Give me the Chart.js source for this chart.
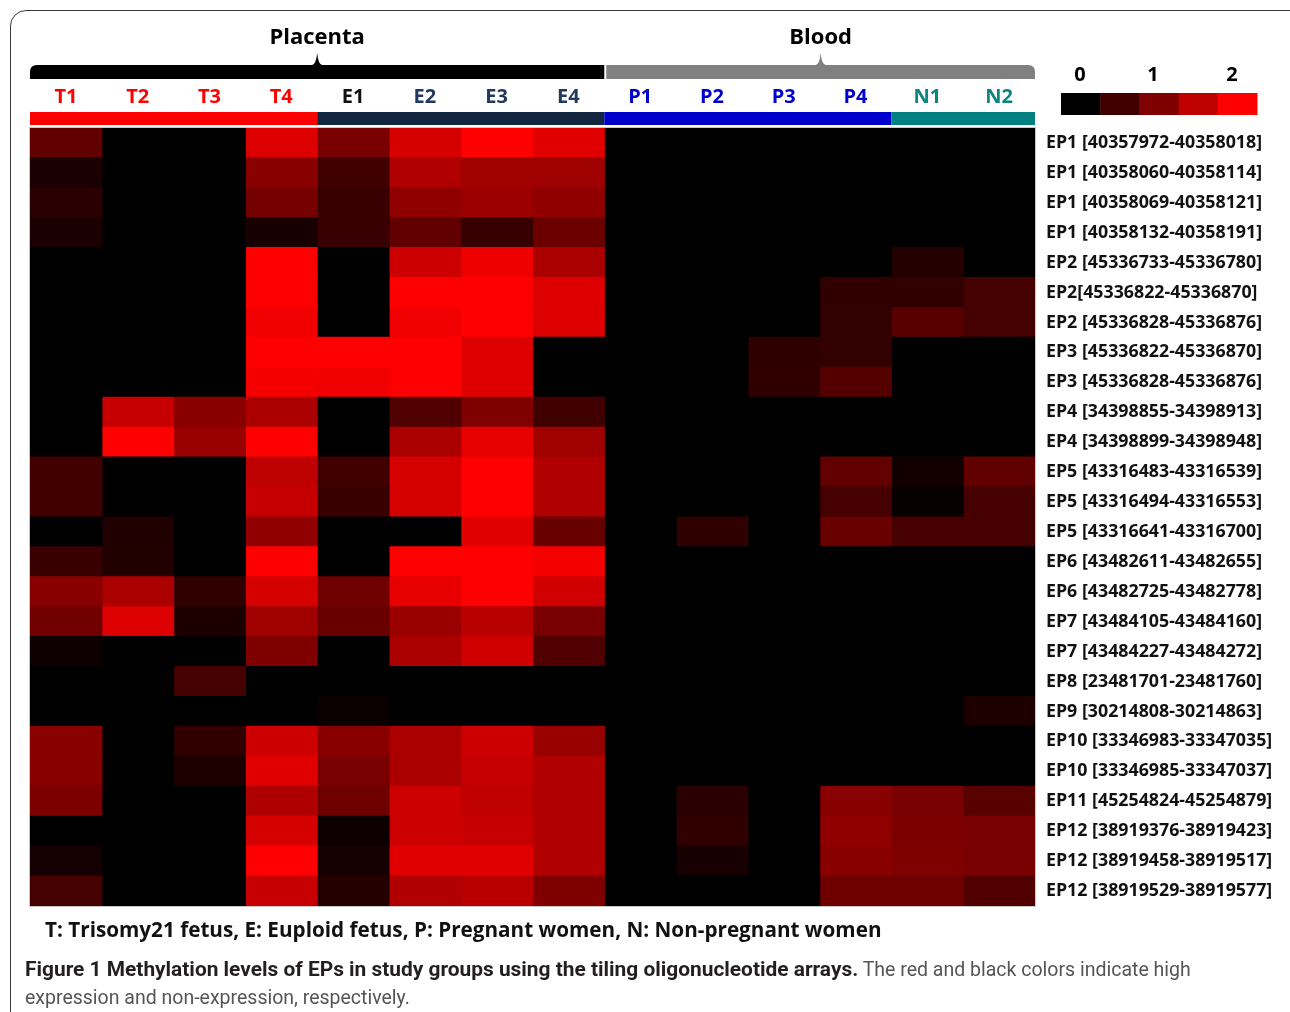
<!DOCTYPE html>
<html>
<head>
<meta charset="utf-8">
<script src="https://cdn.jsdelivr.net/npm/chart.js@4.4.1/dist/chart.umd.min.js"></script>
<style>
    body { margin: 0; background: #fff; width: 1290px; height: 1012px; overflow: hidden; position: relative; }
    .frame { position: absolute; left: 10px; top: 10px; width: 1300px; height: 1100px; border: 1.5px solid #3a3a3a; border-radius: 16px; }
    #chart { position: absolute; left: 0; top: 0; }
    .note { position: absolute; left: 45px; top: 915px; font: bold 20.7px "Open Sans", sans-serif; color: #111; }
    .caption { position: absolute; left: 25px; top: 955px; font: 19.5px "Roboto", sans-serif; line-height: 28px; color: #555; }
    .caption b { color: #231f20; font-size: 20.9px; }
</style>
</head>
<body>
<div class="frame"></div>
<canvas id="chart" width="1290" height="1012"></canvas>
<div class="note">T: Trisomy21 fetus, E: Euploid fetus, P: Pregnant women, N: Non-pregnant women</div>
<div class="caption"><b>Figure 1 Methylation levels of EPs in study groups using the tiling oligonucleotide arrays.</b> The red and black colors indicate high<br>expression and non-expression, respectively.</div>
<script>
const rows = [
    "EP1 [40357972-40358018]", "EP1 [40358060-40358114]", "EP1 [40358069-40358121]",
    "EP1 [40358132-40358191]", "EP2 [45336733-45336780]", "EP2[45336822-45336870]",
    "EP2 [45336828-45336876]", "EP3 [45336822-45336870]", "EP3 [45336828-45336876]",
    "EP4 [34398855-34398913]", "EP4 [34398899-34398948]", "EP5 [43316483-43316539]",
    "EP5 [43316494-43316553]", "EP5 [43316641-43316700]", "EP6 [43482611-43482655]",
    "EP6 [43482725-43482778]", "EP7 [43484105-43484160]", "EP7 [43484227-43484272]",
    "EP8 [23481701-23481760]", "EP9 [30214808-30214863]", "EP10 [33346983-33347035]",
    "EP10 [33346985-33347037]", "EP11 [45254824-45254879]", "EP12 [38919376-38919423]",
    "EP12 [38919458-38919517]", "EP12 [38919529-38919577]"
];

const cols = ["T1", "T2", "T3", "T4", "E1", "E2", "E3", "E4", "P1", "P2", "P3", "P4", "N1", "N2"];

// methylation level per column, one value per row (0 = black, 2 = red)
const T1 = [0.75, 0.2, 0.33, 0.2, 0, 0, 0, 0, 0, 0, 0, 0.5, 0.5, 0, 0.44, 1.07, 0.88, 0.1, 0, 0, 1.07, 1.07, 0.97, 0, 0.16, 0.54];
const T2 = [0, 0, 0, 0, 0, 0, 0, 0, 0, 1.55, 2, 0, 0, 0.25, 0.27, 1.33, 1.73, 0, 0, 0, 0, 0, 0, 0, 0, 0];
const T3 = [0, 0, 0, 0, 0, 0, 0, 0, 0, 1.08, 1.2, 0, 0, 0, 0, 0.38, 0.22, 0, 0.54, 0, 0.38, 0.22, 0, 0, 0, 0];
const T4 = [1.73, 1.07, 0.92, 0.19, 2, 2, 1.88, 2, 1.92, 1.33, 2, 1.5, 1.55, 1.13, 2, 1.67, 1.25, 1, 0, 0, 1.6, 1.76, 1.37, 1.67, 2, 1.55];
const E1 = [0.94, 0.5, 0.44, 0.44, 0, 0, 0, 2, 1.88, 0, 0, 0.5, 0.44, 0, 0, 0.88, 0.82, 0, 0, 0.08, 1.07, 0.94, 0.86, 0.1, 0.16, 0.29];
const E2 = [1.67, 1.38, 1.13, 0.75, 1.6, 2, 1.88, 2, 2, 0.63, 1.33, 1.67, 1.67, 0, 2, 1.82, 1.21, 1.33, 0, 0, 1.33, 1.33, 1.6, 1.6, 1.76, 1.38];
const E3 = [2, 1.25, 1.22, 0.42, 1.87, 2, 2, 1.73, 1.73, 1, 1.8, 2, 2, 1.76, 2, 2, 1.44, 1.63, 0, 0, 1.6, 1.55, 1.5, 1.55, 1.76, 1.44];
const E4 = [1.76, 1.25, 1.13, 0.83, 1.33, 1.73, 1.73, 0, 0, 0.5, 1.25, 1.38, 1.38, 0.82, 1.92, 1.63, 0.94, 0.63, 0, 0, 1.2, 1.38, 1.38, 1.38, 1.38, 1];
const P1 = [0, 0, 0, 0, 0, 0, 0, 0, 0, 0, 0, 0, 0, 0, 0, 0, 0, 0, 0, 0, 0, 0, 0, 0, 0, 0];
const P2 = [0, 0, 0, 0, 0, 0, 0, 0, 0, 0, 0, 0, 0, 0.36, 0, 0, 0, 0, 0, 0, 0, 0, 0.33, 0.38, 0.19, 0];
const P3 = [0, 0, 0, 0, 0, 0, 0, 0.36, 0.38, 0, 0, 0, 0, 0, 0, 0, 0, 0, 0, 0, 0, 0, 0, 0, 0, 0];
const P4 = [0, 0, 0, 0, 0, 0.38, 0.4, 0.4, 0.67, 0, 0, 0.77, 0.56, 0.82, 0, 0, 0, 0, 0, 0, 0, 0, 1.07, 1.13, 1.07, 0.88];
const N1 = [0, 0, 0, 0, 0.29, 0.38, 0.69, 0, 0, 0, 0, 0.14, 0.05, 0.56, 0, 0, 0, 0, 0, 0, 0, 0, 0.94, 0.97, 1, 0.88];
const N2 = [0, 0, 0, 0, 0, 0.54, 0.54, 0, 0, 0, 0, 0.75, 0.56, 0.56, 0, 0, 0, 0, 0, 0.22, 0, 0, 0.69, 0.94, 0.94, 0.63];

const columns = [T1, T2, T3, T4, E1, E2, E3, E4, P1, P2, P3, P4, N1, N2];

const legendSteps = [0, 0.5, 1, 1.5, 2];
const legendTicks = ["0", "1", "2"];

const colColors = ["#ff0000", "#ff0000", "#ff0000", "#ff0000", "#111111", "#22385c", "#22385c", "#22385c",
    "#0000cc", "#0000cc", "#0000cc", "#0000cc", "#0b8580", "#0b8580"];

const groups = [
    { from: 0, to: 4, color: "#ff0000" },
    { from: 4, to: 8, color: "#13263f" },
    { from: 8, to: 12, color: "#0000cc" },
    { from: 12, to: 14, color: "#008080" },
];

const tissues = [
    { text: "Placenta", from: 0, to: 8, color: "#000000", round: "left" },
    { text: "Blood", from: 8, to: 14, color: "#808080", round: "right" },
];

function heat(v) {
    return `rgb(${Math.round(v / 2 * 255)},0,0)`;
}

const header = {
    id: "header",
    afterDraw(chart) {
        const { ctx, chartArea, scales } = chart;
        const x = scales.x;
        ctx.save();

        // coloured group strip
        groups.forEach(g => {
            ctx.fillStyle = g.color;
            const l = x.getPixelForValue(g.from), r = x.getPixelForValue(g.to);
            ctx.fillRect(l, chartArea.top - 16, r - l, 13);
        });

        // tissue brackets
        tissues.forEach((t, i) => {
            let l = x.getPixelForValue(t.from), r = x.getPixelForValue(t.to);
            if (i > 0) l += 2;
            const top = 65, bot = 79, rad = 7, mid = (l + r) / 2;
            ctx.fillStyle = t.color;
            ctx.beginPath();
            ctx.moveTo(l, bot);
            if (t.round === "left") {
                ctx.lineTo(l, top + rad);
                ctx.quadraticCurveTo(l, top, l + rad, top);
            } else {
                ctx.lineTo(l, top);
            }
            ctx.lineTo(mid - 5, top);
            ctx.quadraticCurveTo(mid - 1, top - 1, mid, top - 12);
            ctx.quadraticCurveTo(mid + 1, top - 1, mid + 5, top);
            if (t.round === "right") {
                ctx.lineTo(r - rad, top);
                ctx.quadraticCurveTo(r, top, r, top + rad);
            } else {
                ctx.lineTo(r, top);
            }
            ctx.lineTo(r, bot);
            ctx.closePath();
            ctx.fill();

            ctx.fillStyle = "#000";
            ctx.font = 'bold 22px "Open Sans", sans-serif';
            ctx.textAlign = "center";
            ctx.textBaseline = "middle";
            ctx.fillText(t.text, mid, 38);
        });

        // light frame round the cells
        ctx.strokeStyle = "#c8c8c8";
        ctx.lineWidth = 1;
        ctx.strokeRect(chartArea.left - 0.5, chartArea.top - 0.5, chartArea.width + 1, chartArea.height + 1);

        // colour key
        const kx = 1061, kw = 39.2, ky = 93, kh = 22;
        legendSteps.forEach((v, i) => {
            ctx.fillStyle = heat(v);
            ctx.fillRect(kx + i * kw, ky, kw + 0.5, kh);
        });
        ctx.fillStyle = "#000";
        ctx.font = 'bold 20px "Open Sans", sans-serif';
        ctx.textAlign = "center";
        ctx.textBaseline = "middle";
        [1080, 1153, 1232].forEach((px, i) => ctx.fillText(legendTicks[i], px, 75));

        ctx.restore();
    }
};

new Chart(document.getElementById("chart"), {
    type: "bar",
    data: {
        labels: rows,
        datasets: columns.map((vals, i) => ({
            label: cols[i],
            data: vals.map(() => 1),
            levels: vals,
            backgroundColor: vals.map(heat),
            borderWidth: 0,
            barPercentage: 1,
            categoryPercentage: 1,
            inflateAmount: 0.6,
        }))
    },
    options: {
        indexAxis: "y",
        responsive: false,
        animation: false,
        layout: { padding: { left: 30, top: 0, right: 0, bottom: 106 } },
        plugins: {
            legend: { display: false },
            tooltip: {
                callbacks: {
                    label: (c) => c.dataset.label + ": " + c.dataset.levels[c.dataIndex]
                }
            }
        },
        scales: {
            x: {
                type: "linear",
                stacked: true,
                min: 0,
                max: 14,
                display: false,
            },
            x2: {
                type: "category",
                labels: cols,
                position: "top",
                offset: true,
                grid: { display: false, drawTicks: false },
                border: { display: false },
                ticks: {
                    padding: 19,
                    color: (c) => colColors[c.index],
                    font: { family: "Open Sans", size: 20, weight: "bold" },
                },
                afterFit: (s) => { s.height = 128; }
            },
            y: {
                type: "category",
                position: "right",
                stacked: true,
                offset: true,
                grid: { display: false, drawTicks: false },
                border: { display: false },
                ticks: {
                    autoSkip: false,
                    padding: 11,
                    color: "#111",
                    font: { family: "Open Sans", size: 17.8, weight: "bold" },
                },
                afterFit: (s) => { s.width = 255; }
            }
        }
    },
    plugins: [header]
});
</script>
</body>
</html>
